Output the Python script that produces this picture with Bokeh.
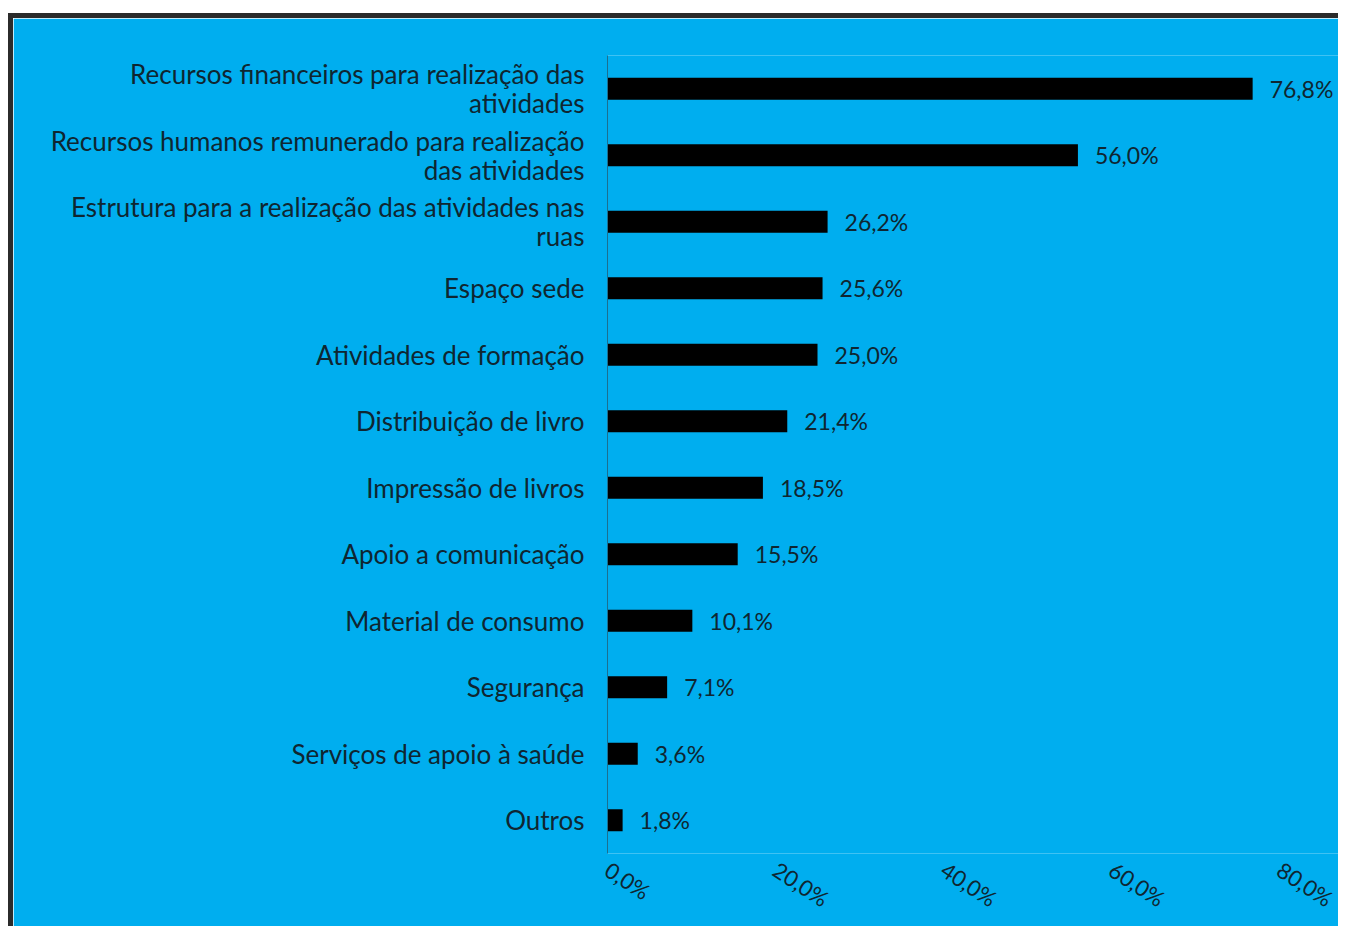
from bokeh.plotting import figure
from bokeh.models import FactorRange, Range1d, FixedTicker, ColumnDataSource, Spacer
from bokeh.layouts import column, row
from bokeh.core.properties import value
from bokeh.embed import file_html
from bokeh.resources import INLINE

categories = [
    "Recursos financeiros para realização das\natividades",
    "Recursos humanos remunerado para realização\ndas atividades",
    "Estrutura para a realização das atividades nas\nruas",
    "Espaço sede",
    "Atividades de formação",
    "Distribuição de livro",
    "Impressão de livros",
    "Apoio a comunicação",
    "Material de consumo",
    "Segurança",
    "Serviços de apoio à saúde",
    "Outros",
]
values = [76.8, 56.0, 26.2, 25.6, 25.0, 21.4, 18.5, 15.5, 10.1, 7.1, 3.6, 1.8]
x_ticks = [0, 20, 40, 60, 80]
x_tick_labels = ["0,0%", "20,0%", "40,0%", "60,0%", "80,0%"]

BLUE = "#00aeef"
DARK = "#2b2b2b"
TEXT = "#0f2631"
FONT = "Lato"

src = ColumnDataSource(dict(
    cat=categories,
    val=values,
    lab=[f"{v:.1f}".replace(".", ",") + "%" for v in values],
))

p = figure(
    y_range=FactorRange(factors=list(reversed(categories))),
    x_range=Range1d(0, 87.02),
    width=1325, height=908,
    output_backend="svg", toolbar_location=None,
    min_border_left=594, min_border_right=0,
    min_border_top=37, min_border_bottom=71,
)
p.background_fill_color = BLUE
p.border_fill_color = BLUE
p.outline_line_color = None
p.xgrid.visible = False
p.ygrid.visible = False

p.hbar(y="cat", right="val", left=0, height=0.33, source=src,
       fill_color="black", line_color=None)
p.text(x="val", y="cat", text="lab", source=src, x_offset=17,
       text_baseline="middle", text_align="left",
       text_font=value(FONT), text_font_size="23px", text_color=TEXT)

p.xaxis.ticker = FixedTicker(ticks=x_ticks)
p.xaxis.major_label_overrides = {t: l for t, l in zip(x_ticks, x_tick_labels)}
p.xaxis.axis_line_color = None
p.xaxis.major_tick_line_color = None
p.xaxis.minor_tick_line_color = None
p.xaxis.major_tick_out = 0
p.xaxis.minor_tick_out = 0
p.xaxis.major_label_orientation = -0.58
p.xaxis.major_label_text_font = FONT
p.xaxis.major_label_text_font_size = "22px"
p.xaxis.major_label_text_color = TEXT
p.xaxis.major_label_standoff = 14

p.yaxis.axis_line_color = "#1d6f8f"
p.yaxis.axis_line_width = 1
p.yaxis.major_tick_line_color = None
p.yaxis.minor_tick_line_color = None
p.yaxis.major_tick_out = 0
p.yaxis.minor_tick_out = 0
p.yaxis.major_label_text_font = FONT
p.yaxis.major_label_text_font_size = "26px"
p.yaxis.major_label_text_line_height = 0.92
p.yaxis.major_label_text_color = TEXT
p.yaxis.major_label_standoff = 23

left_white = Spacer(width=8, height=926)
top_white = Spacer(width=1330, height=13)
top_dark = Spacer(width=1330, height=5, styles={"background-color": DARK})
left_dark = Spacer(width=5, height=908, styles={"background-color": DARK})
layout = row(left_white, column(top_white, top_dark, row(left_dark, p)))

open("out.html", "w").write(file_html(layout, INLINE))
